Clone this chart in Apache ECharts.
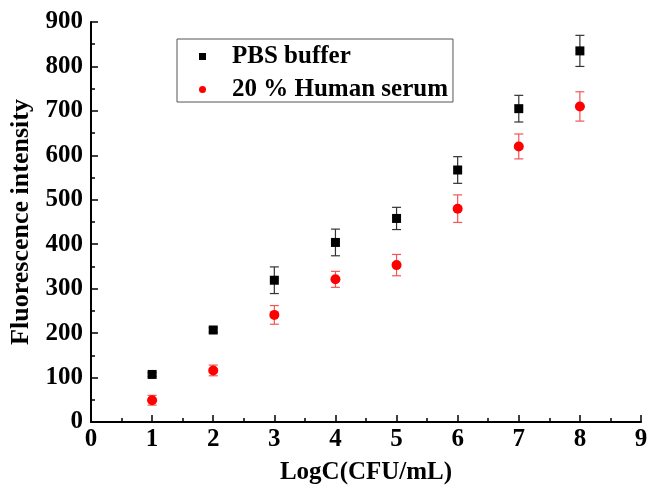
<!DOCTYPE html>
<html>
<head>
<meta charset="utf-8">
<script src="https://cdn.jsdelivr.net/npm/echarts@6/dist/echarts.min.js"></script>
<style>html,body{margin:0;padding:0;background:#fff}#c{width:662px;height:490px}</style>
</head>
<body>
<div id="c"></div>
<script>
const xValues = [1, 2, 3, 4, 5, 6, 7, 8];
const pbsValues = [107, 207, 319, 404, 458, 567, 705, 835];
const pbsErrors = [4, 5, 30, 30, 25, 30, 30, 35];
const serumValues = [49, 116, 241, 321, 353, 480, 620, 710];
const serumErrors = [11, 12, 21, 18, 24, 31, 28, 33];
const seriesNames = ['PBS buffer', '20 % Human serum'];

const FONT = '"Liberation Serif", "Times New Roman", serif';

function errData(vals, errs) {
  return xValues.map((x, i) => [x, vals[i] - errs[i], vals[i] + errs[i]]);
}
function errRender(color) {
  return function (params, api) {
    const x = api.value(0);
    const lo = api.coord([x, api.value(1)]);
    const hi = api.coord([x, api.value(2)]);
    const w = 4.5;
    const style = { stroke: color, lineWidth: 1.2 };
    return {
      type: 'group',
      children: [
        { type: 'line', shape: { x1: lo[0], y1: lo[1], x2: hi[0], y2: hi[1] }, style },
        { type: 'line', shape: { x1: lo[0] - w, y1: lo[1], x2: lo[0] + w, y2: lo[1] }, style },
        { type: 'line', shape: { x1: hi[0] - w, y1: hi[1], x2: hi[0] + w, y2: hi[1] }, style }
      ]
    };
  };
}

const chart = echarts.init(document.getElementById('c'), null, { renderer: 'canvas' });
const axisCommon = {
  axisLine: { show: true, onZero: false, lineStyle: { color: '#000', width: 2 } },
  axisTick: { show: true, inside: true, length: 7, lineStyle: { color: '#000', width: 1.5 } },
  minorTick: { show: true, splitNumber: 2, length: 4, lineStyle: { color: '#000', width: 1.5 } },
  splitLine: { show: false },
  axisLabel: { color: '#000', fontFamily: FONT, fontWeight: 'bold', fontSize: 25 },
  nameLocation: 'middle',
  nameTextStyle: { color: '#000', fontFamily: FONT, fontWeight: 'bold', fontSize: 25 }
};
chart.setOption({
  animation: false,
  backgroundColor: '#fff',
  grid: { left: 91, right: 21, top: 22, bottom: 64, containLabel: false },
  legend: {
    orient: 'vertical',
    left: 177,
    top: 39,
    padding: [5, 5, 0, 22],
    itemGap: 8,
    itemWidth: 7,
    itemHeight: 7,
    borderColor: '#555',
    borderWidth: 1,
    data: [
      { name: seriesNames[0], icon: 'rect' },
      { name: seriesNames[1], icon: 'circle' }
    ],
    textStyle: { color: '#000', fontFamily: FONT, fontWeight: 'bold', fontSize: 25, padding: [0, 0, 0, 21] }
  },
  xAxis: Object.assign({}, axisCommon, {
    type: 'value', min: 0, max: 9, interval: 1,
    name: 'LogC(CFU/mL)', nameGap: 38,
    axisLabel: Object.assign({}, axisCommon.axisLabel, { margin: 5 })
  }),
  yAxis: Object.assign({}, axisCommon, {
    type: 'value', min: 0, max: 900, interval: 100,
    name: 'Fluorescence intensity', nameGap: 56,
    nameTextStyle: Object.assign({}, axisCommon.nameTextStyle, { fontSize: 26 }),
    axisLabel: Object.assign({}, axisCommon.axisLabel, { margin: 8 })
  }),
  series: [
    {
      type: 'custom', name: seriesNames[0] + ' err', renderItem: errRender('#333'),
      data: errData(pbsValues, pbsErrors), encode: { x: 0, y: [1, 2] }, z: 1, silent: true
    },
    {
      type: 'custom', name: seriesNames[1] + ' err', renderItem: errRender('#f25555'),
      data: errData(serumValues, serumErrors), encode: { x: 0, y: [1, 2] }, z: 1, silent: true
    },
    {
      type: 'scatter', name: seriesNames[0], symbol: 'rect', symbolSize: 9,
      itemStyle: { color: '#000', opacity: 1 },
      data: xValues.map((x, i) => [x, pbsValues[i]]), z: 3
    },
    {
      type: 'scatter', name: seriesNames[1], symbol: 'circle', symbolSize: 10,
      itemStyle: { color: '#ff0000', opacity: 1 },
      data: xValues.map((x, i) => [x, serumValues[i]]), z: 3
    }
  ]
});
</script>
</body>
</html>
